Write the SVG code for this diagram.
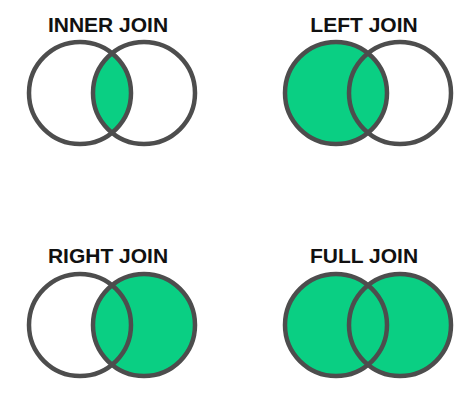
<svg xmlns="http://www.w3.org/2000/svg" width="469" height="400" viewBox="0 0 469 400">
  <style>
    .ring { fill: none; stroke: #4d4d4d; stroke-width: 4.5; }
    .fill { fill: #0acf83; stroke: none; }
    .title { font-family: "Liberation Sans", Arial, sans-serif; font-weight: bold; font-size: 21px; fill: #111; text-anchor: middle; }
  </style>
  <defs>
    <clipPath id="clipInnerA"><circle cx="80" cy="93" r="51"/></clipPath>
  </defs>
  <rect width="469" height="400" fill="#ffffff"/>

  <g id="inner-join">
    <text class="title" x="108" y="32">INNER JOIN</text>
    <circle class="fill" cx="144" cy="93" r="51" clip-path="url(#clipInnerA)"/>
    <circle class="ring" cx="80" cy="93" r="51"/>
    <circle class="ring" cx="144" cy="93" r="51"/>
  </g>

  <g id="left-join">
    <text class="title" x="364" y="32">LEFT JOIN</text>
    <circle class="fill" cx="336" cy="93" r="51"/>
    <circle class="ring" cx="336" cy="93" r="51"/>
    <circle class="ring" cx="400" cy="93" r="51"/>
  </g>

  <g id="right-join">
    <text class="title" x="108" y="263">RIGHT JOIN</text>
    <circle class="fill" cx="144" cy="325" r="51"/>
    <circle class="ring" cx="80" cy="325" r="51"/>
    <circle class="ring" cx="144" cy="325" r="51"/>
  </g>

  <g id="full-join">
    <text class="title" x="364" y="263">FULL JOIN</text>
    <circle class="fill" cx="336" cy="325" r="51"/>
    <circle class="fill" cx="400" cy="325" r="51"/>
    <circle class="ring" cx="336" cy="325" r="51"/>
    <circle class="ring" cx="400" cy="325" r="51"/>
  </g>

  <g id="connectors"></g>
</svg>
